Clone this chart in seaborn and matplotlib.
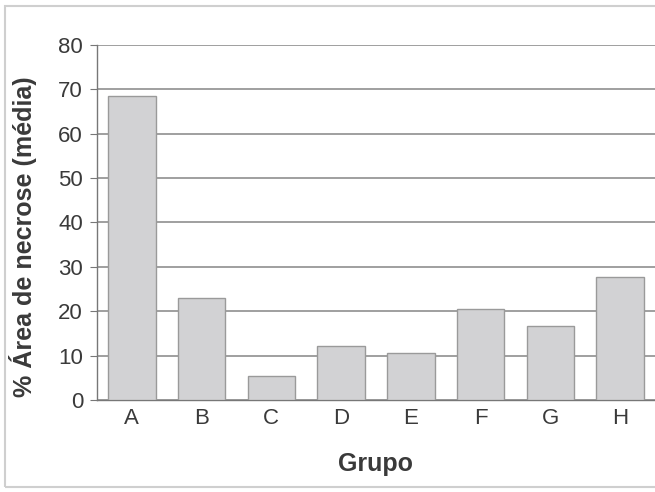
import matplotlib
matplotlib.use("Agg")
import matplotlib.pyplot as plt
import seaborn as sns
import pandas as pd
from matplotlib.patches import Rectangle

grupos = ["A", "B", "C", "D", "E", "F", "G", "H"]
necrose = [68.5, 23.0, 5.4, 12.2, 10.6, 20.6, 16.7, 27.6]
y_ticks = [0, 10, 20, 30, 40, 50, 60, 70, 80]

sns.set_style("white")
plt.rcParams['font.family'] = ['Liberation Sans', 'DejaVu Sans']

df = pd.DataFrame({"Grupo": grupos, "Necrose": necrose})

fig = plt.figure(figsize=(6.55, 4.92), dpi=100)
ax = fig.add_axes([0.148, 0.187, 0.852, 0.722])

sns.barplot(data=df, x="Grupo", y="Necrose", color="#d2d2d4", edgecolor="#9a9a9a",
            linewidth=1.0, width=0.68, saturation=1, ax=ax, zorder=3)

ax.set_ylim(0, 80)
ax.set_xlim(-0.5, len(grupos) - 0.5)
ax.set_yticks(y_ticks)
ax.yaxis.grid(True, color="#858585", linewidth=1.1, zorder=0)
ax.set_axisbelow(True)

# ticks between groups on the x axis
ax.set_xticks(range(len(grupos)))
ax.set_xticks([i + 0.5 for i in range(len(grupos) - 1)], minor=True)
ax.tick_params(axis="x", which="major", length=0, pad=6, labelsize=16, labelcolor="#3a3a3a")
ax.tick_params(axis="x", which="minor", length=5, color="#777777", direction="out")
ax.tick_params(axis="y", length=5, color="#777777", direction="out", pad=5,
               labelsize=16, labelcolor="#3a3a3a", left=True)

for s in ["top", "right"]:
    ax.spines[s].set_visible(False)
for s in ["left", "bottom"]:
    ax.spines[s].set_color("#777777")
    ax.spines[s].set_linewidth(1.0)

ax.set_xlabel("Grupo", fontsize=18, fontweight="bold", color="#3a3a3a", labelpad=16)
ax.set_ylabel("% Área de necrose (média)", fontsize=18, fontweight="bold", color="#3a3a3a")
ax.yaxis.set_label_coords(-0.108, 0.46)

fig.patches.append(Rectangle((0.008, 0.01), 1.2, 0.978, transform=fig.transFigure,
                             fill=False, edgecolor="#cfcfcf", linewidth=1.5))

fig.savefig("out.png", dpi=100)
